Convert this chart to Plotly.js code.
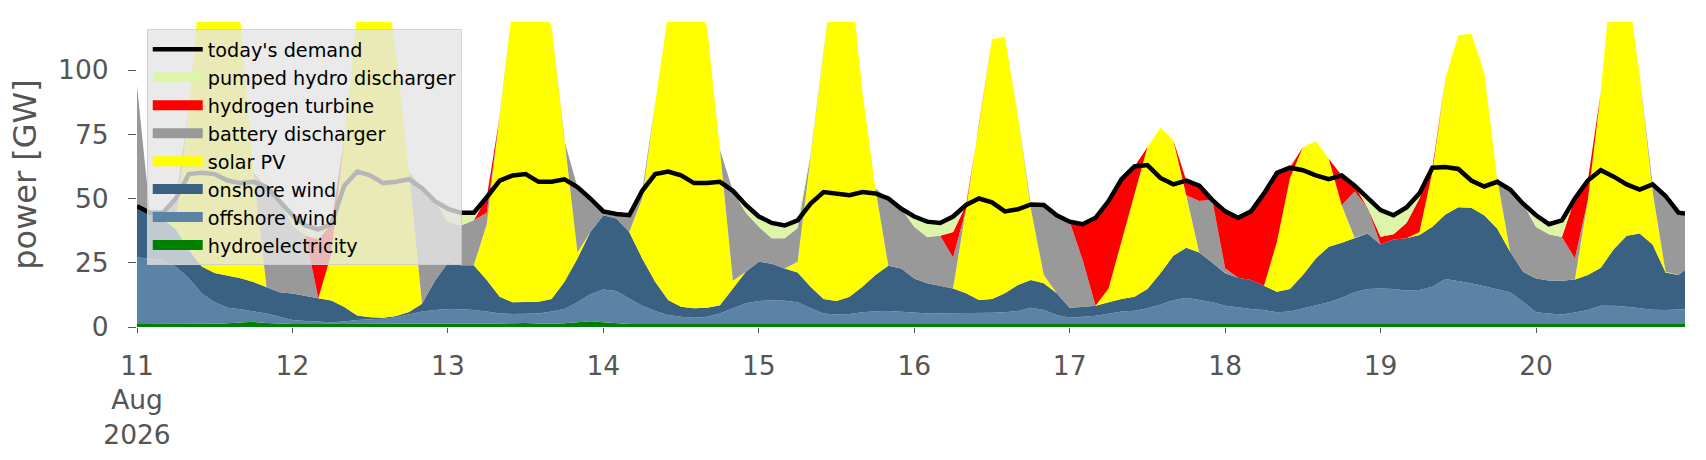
<!DOCTYPE html>
<html>
<head>
<meta charset="utf-8">
<script src="https://cdn.plot.ly/plotly-3.0.1.min.js"></script>
<style>
  body { margin: 0; background: #fff; }
  #power_mix { width: 1706px; height: 460px; }
</style>
</head>
<body>
<div id="power_mix"></div>
<script>

/////////////////////   Data  (GW, every 2 hours, 11-20 Aug 2026)   /////////////////////

var hydro = [
  1.2,1.2,1.2,1.2,1.2,1.2,1.3,1.5,1.8,2.0,1.6,1.3,
  1.2,1.2,1.2,1.2,1.3,1.3,1.2,1.2,1.2,1.3,1.4,1.3,
  1.2,1.2,1.3,1.3,1.4,1.5,1.6,1.4,1.3,1.5,1.8,2.2,
  1.8,1.4,1.2,1.2,1.2,1.2,1.2,1.2,1.2,1.3,1.3,1.2,
  1.2,1.2,1.2,1.2,1.2,1.2,1.2,1.2,1.2,1.2,1.2,1.2,
  1.2,1.2,1.2,1.2,1.2,1.2,1.2,1.2,1.2,1.2,1.2,1.2,
  1.2,1.2,1.2,1.2,1.2,1.2,1.2,1.2,1.2,1.2,1.2,1.2,
  1.2,1.2,1.2,1.2,1.2,1.2,1.2,1.2,1.2,1.2,1.2,1.2,
  1.2,1.2,1.2,1.2,1.2,1.2,1.2,1.2,1.2,1.2,1.2,1.2,
  1.2,1.2,1.2,1.2,1.2,1.2,1.2,1.2,1.2,1.2,1.2,1.2,1.2
];
var offshore = [
  25.8,25.5,24.8,22.2,17.8,11.8,8.3,6.0,5.1,4.2,3.7,2.7,
  1.5,1.1,0.9,0.6,0.8,1.4,1.8,2.0,2.6,3.7,4.6,5.3,
  5.8,5.7,5.3,4.7,3.9,3.6,3.5,3.9,4.7,5.5,7.8,10.5,
  12.8,12.6,9.9,7.1,5.0,3.5,2.8,2.4,2.8,4.0,6.0,8.0,
  8.9,9.2,9.0,8.4,6.1,4.1,3.7,3.9,4.5,4.9,5.0,4.8,
  4.4,4.1,4.1,4.1,4.1,4.2,4.3,4.5,5.0,6.3,5.4,3.5,
  2.4,2.8,3.2,4.0,4.8,5.1,6.1,7.6,9.2,10.2,9.3,8.4,
  7.1,6.4,5.8,5.4,4.5,4.8,6.1,7.3,8.4,10.2,12.3,13.6,
  13.8,13.6,13.0,13.2,14.5,17.5,16.7,15.8,14.7,13.6,12.3,8.6,
  4.5,4.1,3.7,4.4,5.4,7.1,7.1,6.7,6.1,5.5,5.4,5.7,5.7
];
var onshore = [
  19.5,17.8,16.0,14.6,11.0,10.5,11.4,12.5,12.1,11.3,10.2,9.5,
  10.3,9.7,9.1,8.5,5.7,1.8,0.8,0.4,0.5,0.8,3.0,11.4,
  18.0,17.1,17.4,12.3,6.5,4.5,4.5,4.5,4.9,10.6,17.1,24.3,
  28.9,28.2,25.9,18.4,11.4,5.8,3.9,3.7,3.5,3.2,7.7,12.3,
  15.3,14.2,12.6,11.6,8.4,5.6,5.2,6.7,10.0,14.1,17.6,16.8,
  13.3,11.7,10.8,9.7,7.8,5.1,5.4,7.4,10.1,10.8,10.4,8.4,
  3.9,3.8,3.9,4.4,4.9,5.5,7.5,12.1,17.3,19.4,18.5,15.5,
  12.6,11.6,11.3,9.5,8.0,8.8,12.9,18.2,21.6,21.4,21.2,21.6,
  17.1,19.3,20.3,21.4,23.3,25.1,28.7,29.4,27.6,23.5,15.8,11.7,
  13.2,12.8,13.1,12.9,13.6,14.8,22.0,27.6,29.1,25.4,14.6,13.3,15.3
];
var solar = [
  0,0,0,3,55,116.5,129,120,99,42.5,0,0,
  0,0,0,18.2,65.8,117.5,141.2,136.4,102.7,54.7,0,0,
  0,0,0,21.7,70.2,115.4,125.4,118.2,106.1,54.7,2.3,0,
  0,0,0,23.3,69.7,111.5,125.1,119.7,109.5,60.5,3,0,
  0,0,0,4.2,51.3,96.7,137.9,129.2,75.8,33.7,0,0,
  0,0,0,0,32.9,68,101.1,99.9,66.1,27.8,3.2,0,
  0,0,0,5.4,22.3,40.1,55.2,56.6,45,20.5,0,0,
  0,0,0,0,19.5,43,49.8,45.6,34.3,14.6,0,0,
  0,0,0,1.2,21.4,52.8,66.9,67.7,55.7,19.5,0,0,
  0,0,0,0,29.2,68.4,115.7,100.1,61.6,20.5,0.3,0,0
];
var battery = [
  47.5,0,2.5,9,0,0,0,0,0,0,39,35.5,
  26.5,23.5,0,0,0,0,0,0,0,0,45,31,
  16,15.5,17.5,4.5,0,0,0,0,0,0,25.5,13,
  1.5,1.8,6.5,3,0,0,0,0,0,0,35,23,
  13.6,9.9,11.7,13.1,0,0,0,0,0,0,26.2,23.2,
  20.1,18,19.4,12,0,0,0,0,0,1.6,27.3,30.4,
  33.5,18.3,0,0,0,0,0,0,0,0,20,24.4,
  2,0,0,0,0,0,0,0,0,0,18,10,
  0,0,0,0,0,0,0,0,0,0,24.2,26.5,
  20,18,17,8.2,0,0,0,0,0,2.9,29.5,24.3,22
];
var hydrogen = [
  0,0,0,0,0,0,0,0,0,0,0,0,
  0,0,23,11.5,0,0,0,0,0,0,0,0,
  0,0,0,6,0,0,0,0,0,0,0,0,
  0,0,0,0,0,0,0,0,0,0,0,0,
  0,0,0,0,0,0,0,0,0,0,0,0,
  0,0,0,10,1.5,0,0,0,0,0,0,0,
  0,13.9,34.2,34,24.3,10.6,0,0,0,5.7,6,0,
  22.1,23.3,26.7,35.9,26.8,4.2,0,0,0,11.6,2.3,0,
  3,2,6,13,1.6,0,0,0,0,0,0,0,
  0,0,0,23.3,7.6,0,0,0,0,0,0,0,0
];
var pumped = [
  0,0,0,0,0,0,0,0,0,0,0,0,
  4,4,3.8,0,0,0,0,0,0,0,0,0,
  5,5,3,0,0,0,0,0,0,0,0,0,
  0,0,0,0,0,0,0,0,0,0,0,3,
  4,6,5,3,0,0,0,0,0,0,0,0,
  4,6,5,6,0,0,0,0,0,0,0,0,
  0,0,0,0,0,0,0,0,0,0,0,0,
  0,0,0,0,0,0,0,0,0,0,0,3.6,
  10.4,7.4,6,2,0,0,0,0,0,0,0,0,
  4.6,3.9,6.5,0,0,0,0,0,0,0,0,0,0
];
var demand = [
  47,44.5,44.5,50,59.5,60,59.5,57,56,56.5,54.5,49,
  43.5,39.5,38,40,55,60.5,59,56,56.5,57.5,54,49,
  46,44.5,44.5,50.5,57,59,59.5,56.5,56.5,57.5,54.5,50,
  45,44,43.5,53,59.5,60.5,59,56,56,56.5,53,47.5,
  43,40.5,39.5,41.5,48,52.5,52,51.3,52.5,52,50,46,
  43,41,40.5,43,47.5,50,48.5,45,45.8,47.7,47.5,43.5,
  41,40,42.5,49,57.5,62.5,63,58,55.5,57,55,49.5,
  45,42.5,45,52,60,62,61,59,57.5,59,55,50,
  45.5,43.5,46.5,52,62,62.3,61.5,57,54.7,56.5,53.5,48,
  43.5,40,41.5,50,57,61,58.5,55.5,53.5,55.5,51,44.5,44.2
];

var days = [11, 12, 13, 14, 15, 16, 17, 18, 19, 20];
var tick_labels = ['11<br>Aug<br>2026', '12', '13', '14', '15', '16', '17', '18', '19', '20'];

// time axis: every 2 hours, plus the last hour of the 20th
var t = [];
for (var d = 0; d < days.length; d++) {
  for (var h = 0; h < 24; h += 2) {
    t.push('2026-08-' + days[d] + ' ' + (h < 10 ? '0' + h : h) + ':00');
  }
}
t.push('2026-08-20 23:00');

var tick_vals = days.map(function(d){ return '2026-08-' + d + ' 00:00'; });

//////////////////////////////////////////////////////////////

var colors = {
  hydro: '#008000',
  offshore: '#5b83a6',
  onshore: '#3b6182',
  solar: '#ffff00',
  battery: '#999999',
  hydrogen: '#ff0000',
  pumped: '#dcf5a9'
};

function area(y, name, color){
  return {
    x: t,
    y: y,
    name: name,
    type: 'scatter',
    mode: 'lines',
    stackgroup: 'supply',
    fillcolor: color,
    line: {width: 0, color: color},
    showlegend: false
  };
}

// legend-only entry, drawn as a thick bar like the matplotlib patches
function key(name, color){
  return {
    x: [t[0]],
    y: [null],
    name: name,
    type: 'scatter',
    mode: 'lines',
    line: {width: 14, color: color},
    hoverinfo: 'skip'
  };
}

var trace1 = area(hydro, 'hydroelectricity', colors.hydro);
var trace2 = area(offshore, 'offshore wind', colors.offshore);
var trace3 = area(onshore, 'onshore wind', colors.onshore);
var trace4 = area(solar, 'solar PV', colors.solar);
var trace5 = area(battery, 'battery discharger', colors.battery);
var trace6 = area(hydrogen, 'hydrogen turbine', colors.hydrogen);
var trace7 = area(pumped, 'pumped hydro discharger', colors.pumped);
var trace8 = {
  x: t,
  y: demand,
  name: "today's demand",
  type: 'scatter',
  mode: 'lines',
  line: {color: '#000000', width: 4.5}
};

var data = [trace1, trace2, trace3, trace4, trace5, trace6, trace7, trace8,
  key('pumped hydro discharger', colors.pumped),
  key('hydrogen turbine', colors.hydrogen),
  key('battery discharger', colors.battery),
  key('solar PV', colors.solar),
  key('onshore wind', colors.onshore),
  key('offshore wind', colors.offshore),
  key('hydroelectricity', colors.hydro)
];

var grey = '#555555';
var layout = {
  width: 1706,
  height: 460,
  autosize: false,
  margin: {l: 137, r: 21, t: 22, b: 133, pad: 0},
  paper_bgcolor: '#ffffff',
  plot_bgcolor: '#ffffff',
  font: {family: 'DejaVu Sans, sans-serif', color: grey},
  showlegend: true,
  legend: {
    x: 0.0063, y: 0.976, xanchor: 'left', yanchor: 'top',
    traceorder: 'normal',
    bgcolor: 'rgba(229,229,229,0.8)',
    bordercolor: 'rgba(204,204,204,0.8)',
    borderwidth: 1,
    itemwidth: 50,
    itemsizing: 'trace',
    tracegroupgap: 0,
    font: {family: 'DejaVu Sans, sans-serif', size: 19.2, color: '#000000'}
  },
  xaxis: {
    type: 'date',
    range: ['2026-08-11 00:00', '2026-08-20 23:00'],
    tickmode: 'array',
    tickvals: tick_vals,
    ticktext: tick_labels,
    ticks: 'outside',
    ticklen: 5,
    tickcolor: grey,
    ticklabelstandoff: 10,
    tickfont: {size: 26.5, color: grey},
    showgrid: false,
    zeroline: false,
    showline: false
  },
  yaxis: {
    range: [0, 118.7],
    tickmode: 'array',
    tickvals: [0, 25, 50, 75, 100],
    ticks: 'outside',
    ticklen: 8,
    tickcolor: grey,
    ticklabelstandoff: 14,
    tickfont: {size: 26.5, color: grey},
    showgrid: false,
    zeroline: false,
    showline: false,
    title: {text: 'power [GW]', font: {size: 32, color: grey}, standoff: 11}
  }
};

Plotly.newPlot('power_mix', data, layout, {displayModeBar: false, staticPlot: true});

</script>
</body>
</html>
